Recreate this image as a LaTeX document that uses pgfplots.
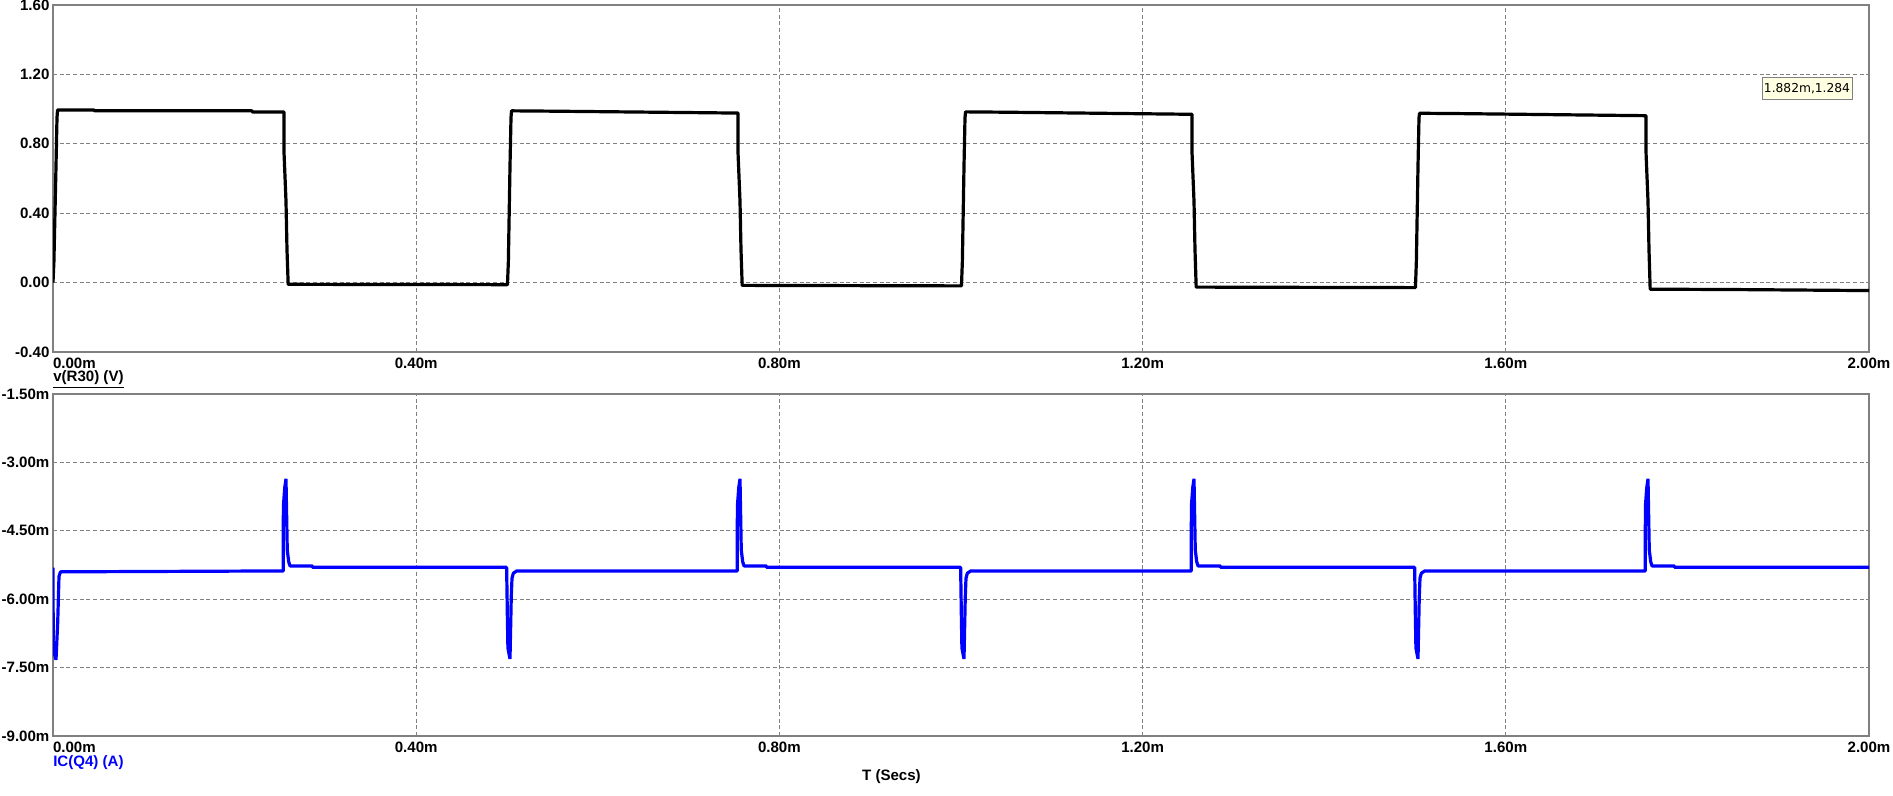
\documentclass[border=0pt]{standalone}
\usepackage{pgfplots}
\pgfplotsset{compat=1.18}
\usepackage{fontspec}
\setmainfont{Liberation Sans}
\newfontfamily\tipfont{DejaVu Sans}
\definecolor{gridgray}{HTML}{808080}
\definecolor{tipbg}{HTML}{FFFFE1}
\definecolor{traceblue}{HTML}{0000FF}

\pgfplotsset{
  simaxis/.style={
    scale only axis,
    width=1362pt,
    xmin=0, xmax=2,
    xtick={0,0.4,0.8,1.2,1.6,2},
    xticklabels={\makebox[0pt][l]{0.00m},0.40m,0.80m,1.20m,1.60m,2.00m},
    grid=major,
    major grid style={gridgray, line width=0.75pt, dash pattern=on 3pt off 2pt},
    axis line style={gridgray, line width=0.8pt},
    major tick length=0pt,
    tick label style={font=\fontsize{11.3}{12}\selectfont\bfseries, text=black},
    xticklabel style={inner sep=0pt, yshift=-4pt},
    yticklabel style={inner sep=0pt, xshift=-2.5pt},
    axis on top=false,
    clip=true,
  }
}

\begin{document}
\begin{tikzpicture}
\useasboundingbox (0,0) rectangle (1419.75pt,597pt);

% ---------- top: v(R30) ----------
\begin{axis}[simaxis,
  at={(39.75pt,333pt)}, anchor=south west,
  height=260.25pt,
  ymin=-0.4, ymax=1.6,
  ytick={-0.4,0,0.4,0.8,1.2,1.6},
  yticklabels={-0.40,0.00,0.40,0.80,1.20,1.60},
]
\addplot[black, line width=2.4pt, line join=bevel] coordinates {
(0,0) (0.001,0.12) (0.0033,0.67) (0.0044,0.95) (0.005,0.995)
(0.045,0.995) (0.046,0.99) (0.219,0.99) (0.22,0.983) (0.2544,0.983)
(0.2545,0.74) (0.2566,0.47) (0.2577,0.19) (0.259,-0.01)
(0.5005,-0.012)
(0.5015,0.12) (0.5033,0.67) (0.5044,0.95) (0.505,0.99)
(0.55,0.988) (0.72,0.979) (0.7544,0.977)
(0.7545,0.74) (0.7566,0.47) (0.7577,0.19) (0.759,-0.016)
(1.0005,-0.019)
(1.0015,0.12) (1.0033,0.67) (1.0044,0.95) (1.005,0.984)
(1.05,0.982) (1.22,0.972) (1.2544,0.97)
(1.2545,0.74) (1.2566,0.47) (1.2577,0.19) (1.259,-0.026)
(1.5005,-0.029)
(1.5015,0.12) (1.5033,0.67) (1.5044,0.95) (1.505,0.976)
(1.55,0.974) (1.72,0.964) (1.7544,0.962)
(1.7545,0.74) (1.7566,0.47) (1.7577,0.19) (1.759,-0.038)
(1.85,-0.04) (2.0,-0.046)
};
\end{axis}

% ---------- bottom: IC(Q4) ----------
\begin{axis}[simaxis,
  at={(39.75pt,45pt)}, anchor=south west,
  height=256.5pt,
  ymin=-9, ymax=-1.5,
  ytick={-9,-7.5,-6,-4.5,-3,-1.5},
  yticklabels={-9.00m,-7.50m,-6.00m,-4.50m,-3.00m,-1.50m},
]
\addplot[traceblue, line width=2.4pt, line join=bevel] coordinates {
(0,-5.31) (0.0003,-7.1) (0.0033,-7.33) (0.0052,-6.5) (0.0066,-5.5) (0.0083,-5.40)
(0.2536,-5.38) (0.2537,-3.97) (0.2552,-3.56) (0.2566,-3.36) (0.258,-4.92) (0.2596,-5.18) (0.261,-5.27)
(0.2856,-5.27) (0.2857,-5.30)
(0.4996,-5.30) (0.5004,-6.38) (0.501,-7.07) (0.5033,-7.31) (0.5047,-5.95) (0.5055,-5.54) (0.507,-5.43) (0.5107,-5.38)
(0.7536,-5.38) (0.7537,-3.97) (0.7552,-3.56) (0.7566,-3.36) (0.758,-4.92) (0.7596,-5.18) (0.761,-5.27)
(0.7856,-5.27) (0.7857,-5.30)
(0.9996,-5.30) (1.0004,-6.38) (1.001,-7.07) (1.0033,-7.31) (1.0047,-5.95) (1.0055,-5.54) (1.007,-5.43) (1.0107,-5.38)
(1.2536,-5.38) (1.2537,-3.97) (1.2552,-3.56) (1.2566,-3.36) (1.258,-4.92) (1.2596,-5.18) (1.261,-5.27)
(1.2856,-5.27) (1.2857,-5.30)
(1.4996,-5.30) (1.5004,-6.38) (1.501,-7.07) (1.5033,-7.31) (1.5047,-5.95) (1.5055,-5.54) (1.507,-5.43) (1.5107,-5.38)
(1.7536,-5.38) (1.7537,-3.97) (1.7552,-3.56) (1.7566,-3.36) (1.758,-4.92) (1.7596,-5.18) (1.761,-5.27)
(1.7856,-5.27) (1.7857,-5.30)
(2.0,-5.30)
};
\end{axis}

% ---------- labels ----------
\node[anchor=west, inner sep=0pt, font=\fontsize{11.3}{12}\selectfont\bfseries] at (39.75pt,312.5pt) {\underline{v(R30) (V)}};
\node[anchor=west, inner sep=0pt, text=traceblue, font=\fontsize{11.3}{12}\selectfont\bfseries] at (39.75pt,25pt) {IC(Q4) (A)};
\node[inner sep=0pt, font=\fontsize{11.3}{12}\selectfont\bfseries] at (668.6pt,14.5pt) {T (Secs)};

% ---------- cursor tooltip ----------
\node[draw=gridgray, fill=tipbg, line width=0.75pt, minimum width=67.5pt, minimum height=16.5pt, inner sep=1pt,
      font=\tipfont\fontsize{9.2}{10}\selectfont] at (1355.25pt,530.25pt) {1.882m,1.284};
\end{tikzpicture}
\end{document}
